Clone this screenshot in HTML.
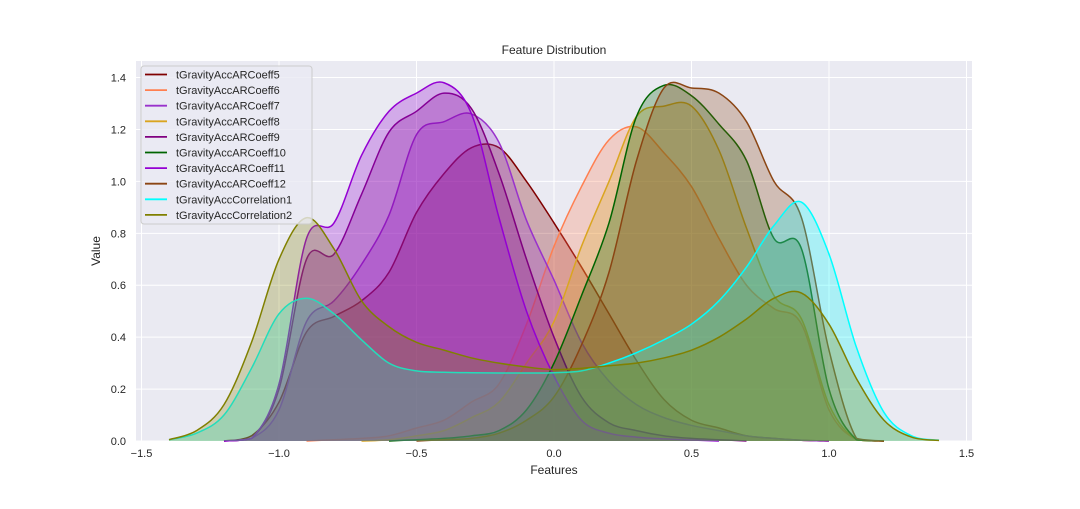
<!DOCTYPE html>
<html><head><meta charset="utf-8"><style>
body{margin:0;background:#fff;font-family:"Liberation Sans","DejaVu Sans",sans-serif;}
svg text{font-family:"Liberation Sans","DejaVu Sans",sans-serif;}
</style></head><body>
<svg id="chart" width="1080" height="504" viewBox="0 0 1080 504" xmlns="http://www.w3.org/2000/svg">
<rect x="136" y="61" width="836" height="380" fill="#EAEAF2"/>
<g id="grid"></g>
<g id="series"></g>
<g id="axes"></g>
<text x="554" y="54" text-anchor="middle" font-size="12" fill="#262626">Feature Distribution</text>
<text x="554" y="474" text-anchor="middle" font-size="12" fill="#262626">Features</text>
<text x="100" y="251" text-anchor="middle" font-size="12" fill="#262626" transform="rotate(-90 100 251)">Value</text>
<g id="legend"></g>
</svg>
<script>
const xGrid = [-1.4,-1.3,-1.2,-1.1,-1.0,-0.9,-0.8,-0.7,-0.6,-0.5,-0.4,-0.3,-0.2,-0.1,0,0.1,0.2,0.3,0.4,0.5,0.6,0.7,0.8,0.9,1.0,1.1,1.2,1.3,1.4];
const seriesNames = ["tGravityAccARCoeff5","tGravityAccARCoeff6","tGravityAccARCoeff7","tGravityAccARCoeff8","tGravityAccARCoeff9","tGravityAccARCoeff10","tGravityAccARCoeff11","tGravityAccARCoeff12","tGravityAccCorrelation1","tGravityAccCorrelation2"];
const seriesColors = ["#800000","#FF7F50","#9932CC","#DAA520","#800080","#006400","#9400D3","#8B4513","#00FFFF","#808000"];
const coeff5 = [0,0,0,0.02,0.15,0.42,0.48,0.54,0.65,0.88,1.03,1.13,1.13,1.0,0.84,0.67,0.49,0.31,0.16,0.08,0.05,0.02,0.01,0.003,0,0,0,0,0];
const coeff6 = [0,0,0,0,0,0,0.005,0.01,0.02,0.05,0.08,0.15,0.22,0.45,0.75,0.98,1.16,1.21,1.11,0.98,0.78,0.6,0.51,0.45,0.12,0.005,0,0,0];
const coeff7 = [0,0,0,0.01,0.12,0.46,0.54,0.68,0.87,1.18,1.23,1.26,1.15,0.85,0.62,0.38,0.23,0.14,0.09,0.06,0.04,0.02,0.01,0.003,0,0,0,0,0];
const coeff8 = [0,0,0,0,0,0,0,0,0.005,0.02,0.04,0.09,0.15,0.3,0.46,0.75,1.0,1.25,1.29,1.29,1.12,0.82,0.56,0.47,0.14,0.005,0,0,0];
const coeff9 = [0,0,0,0.01,0.2,0.7,0.72,0.95,1.19,1.27,1.34,1.28,1.03,0.7,0.4,0.17,0.07,0.04,0.02,0.01,0.005,0,0,0,0,0,0,0,0];
const coeff10 = [0,0,0,0,0,0,0,0,0,0.005,0.01,0.02,0.04,0.12,0.3,0.56,0.84,1.25,1.37,1.33,1.22,1.08,0.78,0.74,0.2,0.005,0,0,0];
const coeff11 = [0,0,0,0.01,0.22,0.78,0.84,1.1,1.27,1.34,1.38,1.26,0.86,0.5,0.25,0.08,0.03,0.015,0.008,0.004,0,0,0,0,0,0,0,0,0];
const coeff12 = [0,0,0,0,0,0,0,0,0,0,0.005,0.01,0.03,0.08,0.17,0.37,0.65,1.08,1.36,1.36,1.34,1.23,1.0,0.86,0.35,0.01,0,0,0];
const corr1 = [0.005,0.03,0.1,0.28,0.49,0.55,0.49,0.39,0.3,0.27,0.265,0.263,0.262,0.262,0.263,0.27,0.3,0.34,0.39,0.45,0.54,0.67,0.83,0.92,0.72,0.36,0.11,0.02,0.003];
const corr2 = [0.005,0.04,0.14,0.38,0.7,0.86,0.74,0.54,0.44,0.38,0.35,0.32,0.3,0.285,0.275,0.28,0.29,0.3,0.32,0.35,0.4,0.47,0.55,0.57,0.45,0.24,0.08,0.015,0.002];
const seriesValues = [coeff5,coeff6,coeff7,coeff8,coeff9,coeff10,coeff11,coeff12,corr1,corr2];
const xTicks = [-1.5,-1.0,-0.5,0.0,0.5,1.0,1.5];
const xTickLabels = ["−1.5","−1.0","−0.5","0.0","0.5","1.0","1.5"];
const yTicks = [0,0.2,0.4,0.6,0.8,1.0,1.2,1.4];
const yTickLabels = ["0.0","0.2","0.4","0.6","0.8","1.0","1.2","1.4"];

const NS="http://www.w3.org/2000/svg";
const X = v => 554 + v*275;
const Y = v => 441 - v*259.6;
function mk(tag, attrs, parent){const e=document.createElementNS(NS,tag);for(const k in attrs)e.setAttribute(k,attrs[k]);parent.appendChild(e);return e;}
const grid=document.getElementById('grid'), axes=document.getElementById('axes'), ser=document.getElementById('series'), leg=document.getElementById('legend');
xTicks.forEach((t,i)=>{
  const l=mk('line',{x1:X(t),x2:X(t),y1:61,y2:441,stroke:'#fff','stroke-width':1},grid);
  
  
  const tx=mk('text',{x:X(t),y:457,'text-anchor':'middle','font-size':11,fill:'#262626'},axes);
  tx.textContent=xTickLabels[i];
  
  
});
yTicks.forEach((t,i)=>{
  const l=mk('line',{x1:136,x2:972,y1:Y(t),y2:Y(t),stroke:'#fff','stroke-width':1},grid);
  
  
  const tx=mk('text',{x:126,y:Y(t)+4,'text-anchor':'end','font-size':11,fill:'#262626'},axes);
  tx.textContent=yTickLabels[i];
  
  
});
function pathFor(vals){
  let s=0,e=vals.length-1;
  while(s<e&&vals[s+1]===0)s++;
  while(e>s&&vals[e-1]===0)e--;
  const pts=[];for(let i=s;i<=e;i++)pts.push([X(xGrid[i]),Y(vals[i])]);
  let d='M'+pts[0][0]+','+pts[0][1];
  for(let i=0;i<pts.length-1;i++){
    const p0=pts[Math.max(0,i-1)],p1=pts[i],p2=pts[i+1],p3=pts[Math.min(pts.length-1,i+2)];
    const c1x=p1[0]+(p2[0]-p0[0])/6,c1y=Math.min(441,p1[1]+(p2[1]-p0[1])/6);
    const c2x=p2[0]-(p3[0]-p1[0])/6,c2y=Math.min(441,p2[1]-(p3[1]-p1[1])/6);
    d+=' C'+c1x+','+c1y+' '+c2x+','+c2y+' '+p2[0]+','+p2[1];
  }
  return {d, x0:pts[0][0], x1:pts[pts.length-1][0]};
}
seriesValues.forEach((vals,i)=>{
  const p=pathFor(vals);
  const f=mk('path',{d:p.d+' L'+p.x1+',441 L'+p.x0+',441 Z',fill:seriesColors[i],'fill-opacity':0.27,stroke:'none'},ser);
  
  
  const l=mk('path',{d:p.d,fill:'none',stroke:seriesColors[i],'stroke-width':1.5},ser);
  
  
});
const box=mk('rect',{x:141,y:66,width:171,height:158,rx:3,fill:'#EAEAF2','fill-opacity':0.8,stroke:'#ccc'},leg);


seriesNames.forEach((n,i)=>{
  const y=74.5+i*15.6;
  const g=mk('g',{},leg);
  
  
  mk('line',{x1:145,x2:167,y1:y,y2:y,stroke:seriesColors[i],'stroke-width':1.8},g);
  const t=mk('text',{x:176,y:y+4,'font-size':11,fill:'#262626'},g);
  t.textContent=n;
});
</script>
</body></html>
